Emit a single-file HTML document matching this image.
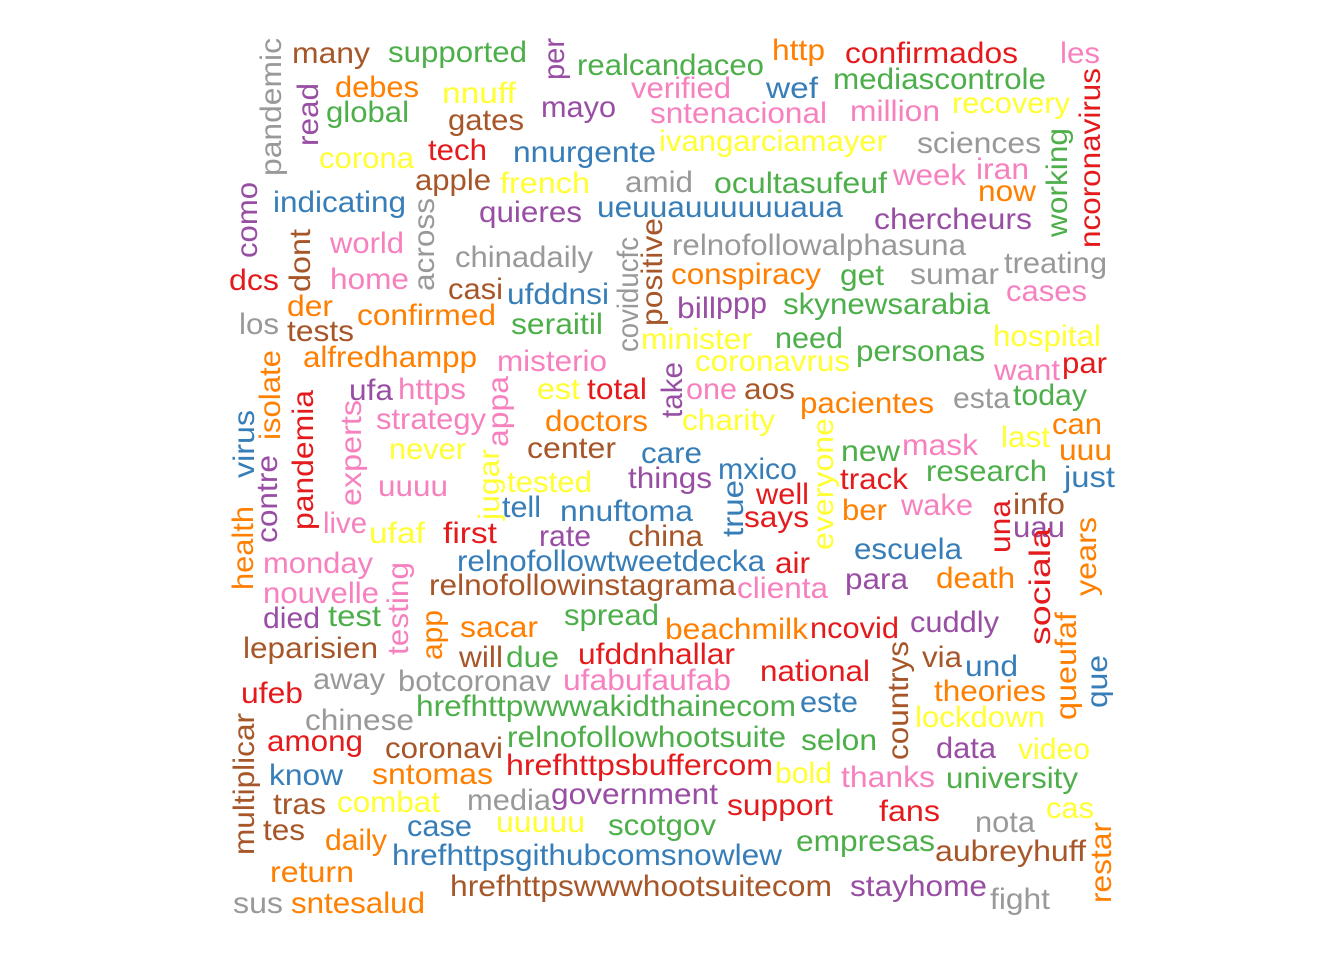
<!DOCTYPE html>
<html><head><meta charset="utf-8"><title>Word cloud</title>
<style>html,body{margin:0;padding:0;background:#fff;}svg{display:block;}</style>
</head><body>
<svg id="cloud" width="1344" height="960" viewBox="0 0 1344 960" xmlns="http://www.w3.org/2000/svg">
<rect width="1344" height="960" fill="#ffffff"/>
<g id="words" font-family="'Liberation Sans', Arial, sans-serif" font-size="30"></g>
</svg>
<script>
const palette = {R:'#E41A1C',B:'#377EB8',G:'#4DAF4A',P:'#984EA3',O:'#FF7F00',Y:'#FFFF33',N:'#A65628',K:'#F781BF',A:'#999999'};
const hWords = ["many","supported","realcandaceo","http","confirmados","les","debes","nnuff","verified","wef","mediascontrole","global","gates","mayo","sntenacional","million","recovery","corona","tech","nnurgente","ivangarciamayer","sciences","week","iran","apple","french","amid","ocultasufeuf","now","indicating","quieres","ueuuauuuuuuaua","chercheurs","world","chinadaily","relnofollowalphasuna","treating","dcs","home","casi","ufddnsi","conspiracy","get","sumar","cases","der","bill","ppp","skynewsarabia","los","tests","confirmed","seraitil","minister","need","hospital","alfredhampp","misterio","coronavrus","personas","want","par","ufa","https","est","total","one","aos","pacientes","esta","today","strategy","doctors","charity","last","can","never","center","care","new","mask","uuu","things","mxico","track","research","just","uuuu","tested","well","ber","wake","info","live","ufaf","first","tell","nnuftoma","says","rate","china","uau","escuela","monday","relnofollowtweetdecka","air","clienta","para","death","nouvelle","relnofollowinstagrama","died","test","spread","beachmilk","ncovid","cuddly","sacar","leparisien","will","due","ufddnhallar","via","und","national","ufeb","away","botcoronav","ufabufaufab","theories","hrefhttpwwwakidthainecom","este","chinese","lockdown","among","coronavi","relnofollowhootsuite","selon","data","video","know","sntomas","hrefhttpsbuffercom","bold","thanks","university","tras","combat","media","government","support","fans","cas","tes","case","uuuuu","scotgov","nota","daily","empresas","hrefhttpsgithubcomsnowlew","aubreyhuff","return","hrefhttpswwwhootsuitecom","stayhome","fight","sus","sntesalud"];
const hColors = ("NGGORKOYKB"+"GGNPKKYYRB"+"YAKKNYAGOB"+"PBPKAAARKN"+"BOGAKOPPGA"+"NOGYGYOKYG"+"KRPKYRKNOA"+"GKOYYOYNBG"+"KOPBRGBKYR"+"OKNKYRBBRP"+"NPBKBRKPOK"+"NPGGORPONN"+"GRNBRRAAKO"+"GBAYRNGGPY"+"BORYKGNYAP"+"RRYNBYGAOG"+"BNONPAAO");
const hLeft = [292,388,577,772,845,1060,335,442,631,766,833,326,448,541,650,850,952,319,428,513,659,917,893,976,415,500,625,714,978,273,479,597,874,330,455,672,1004,229,330,448,507,671,840,910,1006,287,677,716,783,239,287,357,511,641,775,993,303,497,695,856,994,1062,349,398,537,587,686,744,800,953,1013,376,545,682,1001,1052,389,527,641,841,902,1059,628,718,840,926,1064,378,507,756,842,901,1013,323,369,443,502,560,744,539,628,1013,854,263,457,775,737,845,936,263,429,263,328,564,665,810,910,460,243,459,506,578,922,965,760,241,313,398,563,934,416,800,305,915,267,385,507,801,936,1018,269,372,506,775,841,946,273,337,467,551,727,879,1046,263,407,496,608,975,325,796,392,935,270,450,850,990,233,291];
const hRight = [370,527,764,825,1018,1100,419,516,731,818,1046,409,524,616,827,940,1070,414,487,656,887,1041,966,1029,491,590,693,887,1036,406,582,843,1032,404,593,966,1107,279,409,503,609,821,884,999,1087,333,716,767,990,279,354,496,603,752,843,1101,477,607,850,985,1060,1107,393,466,580,647,737,795,934,1010,1087,486,648,775,1050,1102,466,616,702,900,978,1112,712,797,908,1047,1115,448,592,809,887,973,1065,367,425,497,541,693,809,591,703,1065,962,373,765,810,828,908,1015,379,736,320,381,659,808,899,999,538,378,503,559,735,962,1018,870,303,385,551,731,1046,796,858,414,1045,363,503,786,877,996,1090,343,493,773,832,935,1078,326,440,551,718,833,940,1094,305,472,585,716,1035,387,935,782,1086,354,832,987,1050,283,425];
const hCenterY = [53,52,65,50,53,53,87,93,88,88,79,112,120,107,113,111,103,158,150,152,141,143,175,169,180,183,182,183,191,202,212,207,219,243,257,245,263,280,279,289,294,274,275,274,291,306,308,303,304,324,331,315,324,339,338,336,357,361,361,351,370,363,390,389,389,389,389,389,403,398,395,419,421,420,437,424,449,448,453,451,445,450,478,469,479,471,477,486,482,494,510,505,504,523,533,533,507,511,517,536,536,527,549,563,561,563,588,579,578,593,585,618,616,615,629,628,622,627,648,657,657,654,657,666,671,693,679,681,680,691,706,702,720,717,741,748,737,740,748,749,775,774,765,773,777,778,804,802,800,794,805,811,808,830,826,822,825,822,840,841,855,851,872,886,886,899,903,903];
const vWords = ["pandemic","read","per","ncoronavirus","working","como","across","dont","coviducfc","positive","isolate","virus","pandemia","experts","appa","take","everyone","contre","jugar","true","health","una","sociala","years","testing","app","countrys","queufaf","que","multiplicar","restar"];
const vColors = "APPRGPANANOBRKKPYPYBORROKONOBNO";
const vCenterX = [271,308,554,1090,1057,247,424,300,628,652,270,244,303,351,498,672,823,267,489,733,243,1000,1040,1086,398,432,898,1066,1097,244,1101];
const vTop = [38,83,38,68,128,182,198,229,237,218,350,410,390,400,376,362,418,455,449,480,506,500,528,517,562,610,641,612,655,713,822];
const vBottom = [176,146,80,248,237,258,291,292,352,326,440,478,530,506,447,418,550,543,520,537,590,553,645,596,655,660,760,720,708,855,903];

const g = document.getElementById('words');
const NS = 'http://www.w3.org/2000/svg';
hWords.forEach((w, i) => {
  const t = document.createElementNS(NS, 'text');
  
  
  t.setAttribute('x', hLeft[i]);
  t.setAttribute('y', hCenterY[i] + 10);
  t.setAttribute('textLength', hRight[i] - hLeft[i]);
  t.setAttribute('lengthAdjust', 'spacingAndGlyphs');
  t.setAttribute('fill', palette[hColors[i]]);
  t.textContent = w;
  g.appendChild(t);
});
vWords.forEach((w, i) => {
  const t = document.createElementNS(NS, 'text');
  
  
  const cy = (vTop[i] + vBottom[i]) / 2;
  t.setAttribute('transform', 'translate(' + (vCenterX[i] + 10) + ',' + cy + ') rotate(-90)');
  t.setAttribute('x', 0);
  t.setAttribute('y', 0);
  t.setAttribute('text-anchor', 'middle');
  t.setAttribute('textLength', vBottom[i] - vTop[i]);
  t.setAttribute('lengthAdjust', 'spacingAndGlyphs');
  t.setAttribute('fill', palette[vColors[i]]);
  t.textContent = w;
  g.appendChild(t);
});
</script>
</body></html>
